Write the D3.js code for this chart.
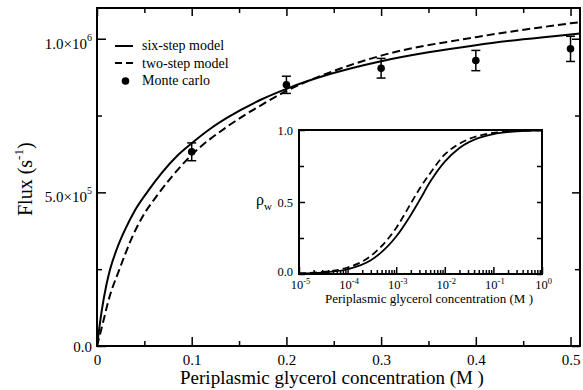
<!DOCTYPE html>
<html>
<head>
<meta charset="utf-8">
<script src="https://cdn.jsdelivr.net/npm/d3@7"></script>
<style>
  body { margin: 0; background: #fff; }
  text { font-family: "Liberation Serif", "Times New Roman", serif; fill: #000; }
  .axis path { display: none; }
  .axis line { stroke: #000; stroke-width: 1.5; }
</style>
</head>
<body>
<div id="chart"></div>
<script>
// main panel: flux vs concentration (M), flux in units of 1e6 s^-1
var sixStepX = [0, 0.005, 0.01, 0.0137, 0.02, 0.026, 0.03, 0.04, 0.054, 0.068, 0.085, 0.1, 0.12, 0.138, 0.174, 0.2, 0.246, 0.3, 0.35, 0.4, 0.45, 0.5, 0.51];
var sixStepY = [0, 0.115, 0.2, 0.248, 0.308, 0.354, 0.381, 0.441, 0.505, 0.562, 0.62, 0.66, 0.708, 0.744, 0.803, 0.837, 0.885, 0.927, 0.956, 0.979, 0.998, 1.014, 1.017];

var twoStepX = [0, 0.005, 0.0137, 0.0225, 0.038, 0.047, 0.066, 0.093, 0.1, 0.138, 0.174, 0.2, 0.25, 0.3, 0.4, 0.5, 0.51];
var twoStepY = [0, 0.06, 0.165, 0.24, 0.36, 0.415, 0.50, 0.60, 0.622, 0.715, 0.785, 0.83, 0.895, 0.945, 1.005, 1.05, 1.054];

var mcX = [0.1, 0.2, 0.3, 0.4, 0.5];
var mcY = [0.632, 0.85, 0.904, 0.929, 0.967];
var mcErr = [0.029, 0.028, 0.032, 0.033, 0.041];

var xTicks = [0, 0.1, 0.2, 0.3, 0.4, 0.5];
var xTickLabels = ['0', '0.1', '0.2', '0.3', '0.4', '0.5'];
var xMinor = [0.05, 0.15, 0.25, 0.35, 0.45];
var yTicks = [0, 0.5, 1.0];
var yTickBase = ['0.0', '5.0\u00d710', '1.0\u00d710'];
var yTickExp = ['', '5', '6'];
var yMinor = [0.25, 0.75];

var legendLabels = ['six-step model', 'two-step model', 'Monte carlo'];

// inset: occupancy rho_w vs concentration (log axis)
var insetX = [1e-5, 3e-5, 1e-4, 3e-4, 1e-3, 2e-3, 3e-3, 5e-3, 1e-2, 2e-2, 5e-2, 1e-1, 3e-1, 1];
var insetSix = [0.004, 0.01, 0.033, 0.095, 0.26, 0.41, 0.51, 0.64, 0.78, 0.875, 0.945, 0.972, 0.99, 0.997];
var insetTwo = [0.005, 0.014, 0.045, 0.125, 0.32, 0.49, 0.59, 0.70, 0.83, 0.905, 0.96, 0.98, 0.993, 0.998];
var insetXTicks = [1e-5, 1e-4, 1e-3, 1e-2, 1e-1, 1];
var insetXExp = ['-5', '-4', '-3', '-2', '-1', '0'];
var insetYTicks = [0, 0.5, 1];
var insetYLabels = ['0.0', '0.5', '1.0'];
var insetYMinor = [0.25, 0.75];

var width = 583, height = 390;

var svg = d3.select('#chart')
  .append('svg')
  .attr('width', width)
  .attr('height', height);

var x = d3.scaleLinear().domain([0, 0.51]).range([97, 580]);
var y = d3.scaleLinear().domain([0, 1.1]).range([346, 8]);

// bottom axis, ticks pointing in
svg.append('g')
  .attr('class', 'axis')
  .attr('transform', 'translate(0,346)')
  .call(d3.axisBottom(x).tickValues(xTicks).tickSizeInner(-9).tickSizeOuter(0).tickPadding(8)
    .tickFormat(function(d, i) { return xTickLabels[i]; }))
  .selectAll('text').style('font-size', '15px');

svg.append('g')
  .attr('class', 'axis')
  .attr('transform', 'translate(0,346)')
  .call(d3.axisBottom(x).tickValues(xMinor).tickSizeInner(-5).tickSizeOuter(0).tickFormat(''));

// top mirror
svg.append('g')
  .attr('class', 'axis')
  .attr('transform', 'translate(0,8)')
  .call(d3.axisTop(x).tickValues(xTicks).tickSizeInner(-8).tickSizeOuter(0).tickFormat(''));
svg.append('g')
  .attr('class', 'axis')
  .attr('transform', 'translate(0,8)')
  .call(d3.axisTop(x).tickValues(xMinor).tickSizeInner(-5).tickSizeOuter(0).tickFormat(''));

// left axis
svg.append('g')
  .attr('class', 'axis')
  .attr('transform', 'translate(97,0)')
  .call(d3.axisLeft(y).tickValues(yTicks).tickSizeInner(-9).tickSizeOuter(0).tickFormat(''));
svg.append('g')
  .attr('class', 'axis')
  .attr('transform', 'translate(97,0)')
  .call(d3.axisLeft(y).tickValues(yMinor).tickSizeInner(-5).tickSizeOuter(0).tickFormat(''));

// right mirror
svg.append('g')
  .attr('class', 'axis')
  .attr('transform', 'translate(580,0)')
  .call(d3.axisRight(y).tickValues(yTicks).tickSizeInner(-8).tickSizeOuter(0).tickFormat(''));
svg.append('g')
  .attr('class', 'axis')
  .attr('transform', 'translate(580,0)')
  .call(d3.axisRight(y).tickValues(yMinor).tickSizeInner(-5).tickSizeOuter(0).tickFormat(''));

// y tick labels with superscripts
yTicks.forEach(function(v, i) {
  var t = svg.append('text')
    .attr('x', 92)
    .attr('y', y(v) + (i == 0 ? 6 : 10))
    .attr('text-anchor', 'end')
    .style('font-size', '15px')
    .text(yTickBase[i]);
  if (yTickExp[i]) {
    t.append('tspan').attr('dy', -8).style('font-size', '10px').text(yTickExp[i]);
  }
});

// axis titles
svg.append('text')
  .attr('x', 332)
  .attr('y', 384)
  .attr('text-anchor', 'middle')
  .style('font-size', '19px')
  .text('Periplasmic glycerol concentration (M )');

var yt = svg.append('text')
  .attr('transform', 'translate(32,216) rotate(-90)')
  .style('font-size', '20px')
  .text('Flux (s');
yt.append('tspan').attr('dy', -9).style('font-size', '13px').text('-1');
yt.append('tspan').attr('dy', 9).text(')');

// curves
var line = d3.line()
  .x(function(d) { return x(d[0]); })
  .y(function(d) { return y(d[1]); })
  .curve(d3.curveMonotoneX);

svg.append('path')
  .datum(d3.zip(sixStepX, sixStepY))
  .attr('d', line)
  .attr('fill', 'none')
  .attr('stroke', '#000')
  .attr('stroke-width', 2);

svg.append('path')
  .datum(d3.zip(twoStepX, twoStepY))
  .attr('d', line)
  .attr('fill', 'none')
  .attr('stroke', '#000')
  .attr('stroke-width', 2)
  .attr('stroke-dasharray', '8,4');

// monte carlo points with error bars
var mc = svg.selectAll('.mc')
  .data(d3.range(mcX.length))
  .enter()
  .append('g')
  .attr('class', 'mc');

mc.append('line')
  .attr('x1', function(i) { return x(mcX[i]); })
  .attr('x2', function(i) { return x(mcX[i]); })
  .attr('y1', function(i) { return y(mcY[i] - mcErr[i]); })
  .attr('y2', function(i) { return y(mcY[i] + mcErr[i]); })
  .attr('stroke', '#000').attr('stroke-width', 1.5);

[-1, 1].forEach(function(s) {
  mc.append('line')
    .attr('x1', function(i) { return x(mcX[i]) - 4.5; })
    .attr('x2', function(i) { return x(mcX[i]) + 4.5; })
    .attr('y1', function(i) { return y(mcY[i] + s * mcErr[i]); })
    .attr('y2', function(i) { return y(mcY[i] + s * mcErr[i]); })
    .attr('stroke', '#000').attr('stroke-width', 1.5);
});

mc.append('circle')
  .attr('cx', function(i) { return x(mcX[i]); })
  .attr('cy', function(i) { return y(mcY[i]); })
  .attr('r', 3.8)
  .attr('fill', '#000');

// frame
svg.append('rect')
  .attr('x', 97).attr('y', 8)
  .attr('width', 580 - 97).attr('height', 346 - 8)
  .attr('fill', 'none')
  .attr('stroke', '#000')
  .attr('stroke-width', 2);

// legend
var legend = svg.append('g');
legend.append('line')
  .attr('x1', 115).attr('x2', 133).attr('y1', 46).attr('y2', 46)
  .attr('stroke', '#000').attr('stroke-width', 2);
legend.append('line')
  .attr('x1', 115).attr('x2', 133).attr('y1', 63).attr('y2', 63)
  .attr('stroke', '#000').attr('stroke-width', 2).attr('stroke-dasharray', '7,4');
legend.append('circle')
  .attr('cx', 125.5).attr('cy', 81).attr('r', 3.8).attr('fill', '#000');
legendLabels.forEach(function(l, i) {
  legend.append('text')
    .attr('x', 142)
    .attr('y', 50 + i * 17.5)
    .style('font-size', '14px')
    .text(l);
});

// inset
var xi = d3.scaleLog().domain([1e-5, 1]).range([299, 542]);
var yi = d3.scaleLinear().domain([0, 1]).range([274, 130]);

svg.append('rect')
  .attr('x', 299).attr('y', 130)
  .attr('width', 542 - 299).attr('height', 274 - 130)
  .attr('fill', '#fff');

var minorLog = [];
insetXTicks.slice(0, -1).forEach(function(d) {
  for (var k = 2; k <= 9; k++) minorLog.push(d * k);
});

svg.append('g')
  .attr('class', 'axis')
  .attr('transform', 'translate(0,274)')
  .call(d3.axisBottom(xi).tickValues(insetXTicks).tickSizeInner(-7).tickSizeOuter(0).tickFormat(''));
svg.append('g')
  .attr('class', 'axis')
  .attr('transform', 'translate(0,274)')
  .call(d3.axisBottom(xi).tickValues(minorLog).tickSizeInner(-4).tickSizeOuter(0).tickFormat(''));

svg.append('g')
  .attr('class', 'axis')
  .attr('transform', 'translate(299,0)')
  .call(d3.axisLeft(yi).tickValues(insetYTicks).tickSizeInner(-6).tickSizeOuter(0).tickPadding(6)
    .tickFormat(function(d, i) { return insetYLabels[i]; }))
  .selectAll('text').style('font-size', '12.5px')
  .attr('dy', function(d) { return d === 0 ? '0.15em' : '0.32em'; });
svg.append('g')
  .attr('class', 'axis')
  .attr('transform', 'translate(299,0)')
  .call(d3.axisLeft(yi).tickValues(insetYMinor).tickSizeInner(-5).tickSizeOuter(0).tickFormat(''));
svg.append('g')
  .attr('class', 'axis')
  .attr('transform', 'translate(542,0)')
  .call(d3.axisRight(yi).tickValues(insetYTicks.concat(insetYMinor)).tickSizeInner(-5).tickSizeOuter(0).tickFormat(''));

insetXTicks.forEach(function(v, i) {
  var t = svg.append('text')
    .attr('x', xi(v) + 1.5)
    .attr('y', 289)
    .attr('text-anchor', 'middle')
    .style('font-size', '12.5px')
    .text('10');
  t.append('tspan').attr('dy', -5).style('font-size', '8.5px').text(insetXExp[i]);
});

svg.append('text')
  .attr('x', 429)
  .attr('y', 303)
  .attr('text-anchor', 'middle')
  .style('font-size', '13px')
  .text('Periplasmic glycerol concentration (M )');

var rho = svg.append('text')
  .attr('x', 256)
  .attr('y', 205)
  .style('font-size', '16px')
  .text('\u03c1');
rho.append('tspan').attr('dy', 5).style('font-size', '11px').text('w');

var lineI = d3.line()
  .x(function(d) { return xi(d[0]); })
  .y(function(d) { return yi(d[1]); })
  .curve(d3.curveMonotoneX);

svg.append('path')
  .datum(d3.zip(insetX, insetSix))
  .attr('d', lineI)
  .attr('fill', 'none')
  .attr('stroke', '#000')
  .attr('stroke-width', 1.8);

svg.append('path')
  .datum(d3.zip(insetX, insetTwo))
  .attr('d', lineI)
  .attr('fill', 'none')
  .attr('stroke', '#000')
  .attr('stroke-width', 1.8)
  .attr('stroke-dasharray', '7,4');

svg.append('rect')
  .attr('x', 299).attr('y', 130)
  .attr('width', 542 - 299).attr('height', 274 - 130)
  .attr('fill', 'none')
  .attr('stroke', '#000')
  .attr('stroke-width', 2);
</script>
</body>
</html>
